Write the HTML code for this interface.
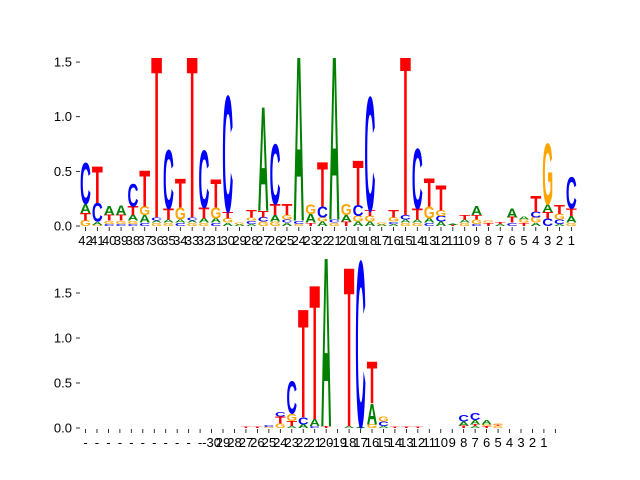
<!DOCTYPE html>
<html><head><meta charset="utf-8"><style>
body{margin:0;background:#fff}
svg{display:block;font-family:"Liberation Sans","DejaVu Sans",sans-serif}
</style></head><body>
<svg id="chart" width="640" height="480" viewBox="0 0 640 480">
<defs>
<clipPath id="clipTop"><rect x="78" y="58" width="505" height="168.5"/></clipPath>
<clipPath id="clipBot"><rect x="78" y="259" width="490" height="169.5"/></clipPath>
</defs>
<g id="top"></g>
<g id="bot"></g>
</svg>
<script>
// Top panel: positions 42..1, stacks bottom->top [letter, height]
const topLabels = ["42","41","40","39","38","37","36","35","34","33","32","31","30","29","28","27","26","25","24","23","22","21","20","19","18","17","16","15","14","13","12","11","10","9","8","7","6","5","4","3","2","1"];
const topStacks = [
 [["G",.05],["T",.07],["A",.08],["C",.38]],
 [["G",.01],["A",.03],["C",.17],["T",.34]],
 [["C",.02],["G",.03],["T",.05],["A",.08]],
 [["C",.02],["G",.03],["T",.05],["A",.09]],
 [["C",.02],["G",.03],["A",.05],["T",.08],["C",.21]],
 [["C",.03],["A",.07],["G",.08],["T",.33]],
 [["G",.03],["A",.02],["C",.03],["T",1.6]],
 [["G",.03],["A",.03],["T",.1],["C",.54]],
 [["C",.03],["A",.03],["G",.11],["T",.27]],
 [["G",.03],["A",.02],["C",.03],["T",1.6]],
 [["G",.03],["A",.04],["T",.1],["C",.53]],
 [["C",.03],["A",.04],["G",.1],["T",.26]],
 [["A",.03],["G",.04],["T",.06],["C",1.07]],
 [["A",.015],["G",.015]],
 [["A",.02],["C",.03],["G",.03],["T",.07]],
 [["G",.04],["C",.04],["T",.06],["A",.96]],
 [["G",.04],["A",.06],["T",.1],["C",.55]],
 [["A",.03],["C",.03],["G",.04],["T",.1]],
 [["G",.02],["C",.03],["A",1.6]],
 [["T",.03],["A",.08],["G",.09]],
 [["A",.04],["G",.04],["C",.1],["T",.41]],
 [["G",.03],["C",.03],["A",1.6]],
 [["T",.04],["A",.06],["G",.1]],
 [["A",.04],["G",.05],["C",.1],["T",.41]],
 [["A",.04],["G",.05],["T",.05],["C",1.05]],
 [["A",.015],["G",.015]],
 [["A",.02],["C",.02],["G",.04],["T",.07]],
 [["G",.03],["A",.03],["C",.04],["T",1.6]],
 [["G",.03],["A",.03],["T",.1],["C",.55]],
 [["C",.03],["A",.04],["G",.11],["T",.26]],
 [["A",.04],["C",.05],["G",.05],["T",.23]],
 [["T",.01],["A",.01]],
 [["G",.03],["A",.03],["T",.04]],
 [["C",.02],["G",.04],["T",.04],["A",.08]],
 [["T",.03],["G",.02]],
 [["A",.02],["T",.02]],
 [["C",.03],["T",.05],["A",.08]],
 [["T",.03],["G",.03],["A",.03]],
 [["A",.03],["G",.05],["C",.05],["T",.15]],
 [["C",.07],["T",.06],["A",.07],["G",.56]],
 [["A",.02],["C",.04],["G",.05],["T",.08]],
 [["G",.03],["A",.06],["T",.07],["C",.29]]
];
const topYTicks = [0, 0.5, 1.0, 1.5];
const topYTickLabels = ["0.0","0.5","1.0","1.5"];

// Bottom panel
const botLabels = ["-","-","-","-","-","-","-","-","-","-","-","-30","29","28","27","26","25","24","23","22","21","20","-19","18","17","16","15","14","13","12","11","10","9","8","7","6","5","4","3","2","1",""];
const botStacks = [
 [],[],[],[],[],[],[],[],[],[],[],[],[],[],
 [["T",.01]],
 [["T",.01]],
 [["G",.01],["C",.02]],
 [["G",.05],["T",.08],["C",.05]],
 [["A",.02],["T",.06],["G",.08],["C",.36]],
 [["A",.04],["C",.08],["T",1.21]],
 [["C",.02],["A",.08],["T",1.5]],
 [["T",.02],["A",2.0]],
 [],
 [["A",.02],["T",1.78]],
 [["A",.01],["C",1.86]],
 [["G",.04],["A",.23],["T",.47]],
 [["A",.02],["C",.05],["G",.06]],
 [["T",.01]],
 [["T",.01]],
 [["T",.01]],
 [],[],[],
 [["T",.03],["A",.04],["C",.07]],
 [["A",.02],["T",.02],["A",.05],["C",.08]],
 [["T",.02],["G",.02],["A",.05]],
 [["G",.02],["T",.01],["G",.02]],
 [],[],[],[],[]
];
const botYTicks = [0, 0.5, 1.0, 1.5];
const botYTickLabels = ["0.0","0.5","1.0","1.5"];

const colors = {A:"#008000",C:"#0000ff",G:"#ffa500",T:"#ff0000"};
const NS = "http://www.w3.org/2000/svg";

function panel(g, stacks, labels, yT, yTL, x0, dx, y0, pxPerUnit, clip, tag){
  const xs = i => x0 + i*dx;
  const ys = v => y0 - v*pxPerUnit;
  const lg = document.createElementNS(NS,"g");
  lg.setAttribute("clip-path","url(#"+clip+")");
  
  
  g.appendChild(lg);
  const w = dx*0.92;
  stacks.forEach((st,i)=>{
    let cum = 0;
    st.forEach(([L,h])=>{
      const hp = h*pxPerUnit;
      const yb = ys(cum);
      cum += h;
      if(hp < 0.3) return;
      const t = document.createElementNS(NS,"text");
      
      
      t.setAttribute("font-size","10");
      t.setAttribute("font-weight","bold");
      t.setAttribute("textLength","7");
      t.setAttribute("lengthAdjust","spacingAndGlyphs");
      t.setAttribute("fill",colors[L]);
      t.setAttribute("x","0"); t.setAttribute("y","0");
      t.setAttribute("transform","translate("+(xs(i)-w/2)+","+yb+") scale("+(w/7)+","+(hp/7.0)+")");
      t.textContent = L;
      lg.appendChild(t);
    });
  });
  labels.forEach((lab,i)=>{
    const tk = document.createElementNS(NS,"line");
    
    
    tk.setAttribute("x1",xs(i)); tk.setAttribute("x2",xs(i));
    tk.setAttribute("y1",y0+1); tk.setAttribute("y2",y0+5);
    tk.setAttribute("stroke","#000"); tk.setAttribute("stroke-width","0.8");
    g.appendChild(tk);
    const t = document.createElementNS(NS,"text");
    
    
    t.setAttribute("x",xs(i)); t.setAttribute("y",y0+19);
    t.setAttribute("text-anchor","middle"); t.setAttribute("font-size","13");
    t.textContent = lab;
    g.appendChild(t);
  });
  yT.forEach((v,k)=>{
    const tk = document.createElementNS(NS,"line");
    
    
    tk.setAttribute("x1",76); tk.setAttribute("x2",80);
    tk.setAttribute("y1",ys(v)); tk.setAttribute("y2",ys(v));
    tk.setAttribute("stroke","#000"); tk.setAttribute("stroke-width","0.8");
    g.appendChild(tk);
    const t = document.createElementNS(NS,"text");
    
    
    t.setAttribute("x",72); t.setAttribute("y",ys(v)+4.5);
    t.setAttribute("text-anchor","end"); t.setAttribute("font-size","13");
    t.textContent = yTL[k];
    g.appendChild(t);
  });
}
panel(document.getElementById("top"), topStacks, topLabels, topYTicks, topYTickLabels, 85.5, 11.85, 226, 109.3, "clipTop", "top");
panel(document.getElementById("bot"), botStacks, botLabels, botYTicks, botYTickLabels, 85.5, 11.46, 428, 90, "clipBot", "bottom");
</script>
</body></html>
